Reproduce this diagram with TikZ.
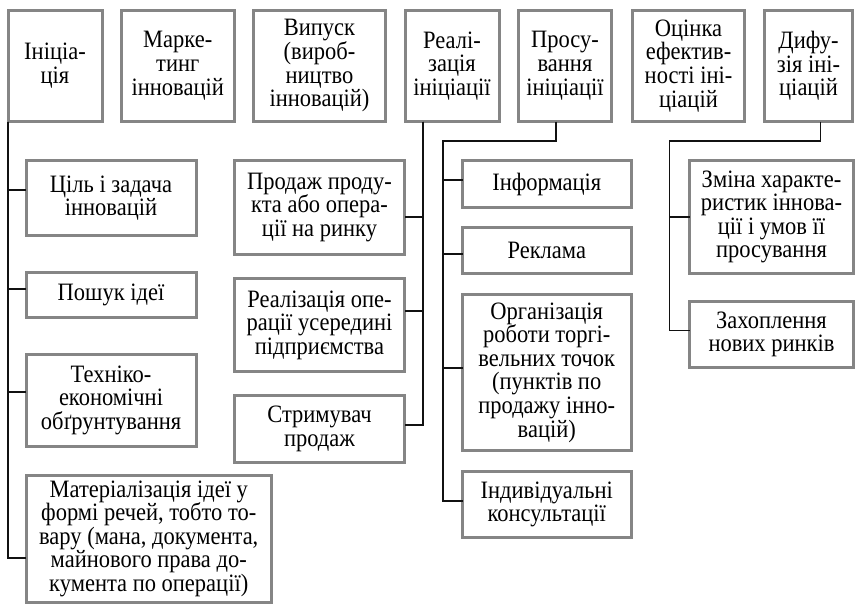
\documentclass[tikz,border=0pt]{standalone}
\usepackage{fontspec}
\setmainfont[FakeStretch=0.9]{Liberation Serif}
\usepackage{tikz}
\usetikzlibrary{positioning,calc}
\definecolor{cFrame}{HTML}{858585}
\definecolor{cLine} {HTML}{111111}
\tikzset{
  box/.style  ={draw=cFrame,fill=white,line width=1.5pt,align=center,
                inner sep=0pt,font=\fontsize{12.5}{11.8}\selectfont},
  link/.style ={draw=cLine,line width=0.85pt},
}

\begin{document}
\begin{tikzpicture}[x=0.5pt,y=0.5pt,every node/.style={outer sep=0pt}]
\useasboundingbox (0,0) rectangle (855,-606);

% top row
\node[box,minimum width=47pt,   minimum height=55.75pt] (init)  at (55,-65.75)    {Ініціа-\\ція};
\node[box,minimum width=56.25pt,minimum height=55.75pt] (mark)  at (177.75,-65.75) {Марке-\\тинг\\інновацій};
\node[box,minimum width=66pt,   minimum height=55.75pt] (prod)  at (319.5,-65.75) {Випуск\\(вироб-\\ництво\\інновацій)};
\node[box,minimum width=47pt,   minimum height=55.75pt] (real)  at (452,-65.75)   {Реалі-\\зація\\ініціації};
\node[box,minimum width=46.5pt, minimum height=55.75pt] (promo) at (565,-65.75)   {Просу-\\вання\\ініціації};
\node[box,minimum width=56pt,   minimum height=55.75pt] (eval)  at (688.5,-65.75) {Оцінка\\ефектив-\\ності іні-\\ціацій};
\node[box,minimum width=44pt,   minimum height=55.75pt] (diff)  at (808.5,-65.75) {Дифу-\\зія іні-\\ціацій};

% initiation branch
\node[box,minimum width=85pt,minimum height=37.5pt]  (goal)   at (111,-198)     {Ціль і задача\\інновацій};
\node[box,minimum width=85pt,minimum height=22.75pt] (search) at (111,-294.75)  {Пошук ідеї};
\node[box,minimum width=85pt,minimum height=46.25pt] (feas)   at (111,-400.25)  {Техніко-\\економічні\\обґрунтування};
\node[box,minimum width=122.75pt,minimum height=63.75pt] (mat) at (148.75,-538.75) {Матеріалізація ідеї у\\формі речей, тобто то-\\вару (мана, документа,\\майнового права до-\\кумента по операції)};
\draw[link] (init.south west) |- ([yshift=4pt]goal.west);
\draw[link] (init.south west) |- ([yshift=2.9pt]search.west);
\draw[link] (init.south west) |- ([yshift=4.1pt]feas.west);
\draw[link] (init.south west) |- ([yshift=-9.6pt]mat.west);

% realisation branch
\node[box,minimum width=85pt,minimum height=47pt]   (sale)  at (319.5,-207.5) {Продаж проду-\\кта або опера-\\ції на ринку};
\node[box,minimum width=85pt,minimum height=46.5pt] (inner) at (319.5,-325)   {Реалізація опе-\\рації усередині\\підприємства};
\node[box,minimum width=85pt,minimum height=33.5pt] (brake) at (319.5,-429)   {Стримувач\\продаж};
\draw[link] ([xshift=-14.5pt]real.south) |- ([yshift=-4.75pt]sale.east);
\draw[link] ([xshift=-14.5pt]real.south) |- ([yshift=7pt]inner.east);
\draw[link] ([xshift=-14.5pt]real.south) |- ([yshift=2pt]brake.east);

% promotion branch
\node[box,minimum width=84.25pt,minimum height=23.5pt] (info) at (546.75,-184)   {Інформація};
\node[box,minimum width=84.25pt,minimum height=23pt]   (adv)  at (546.75,-250.5) {Реклама};
\node[box,minimum width=84.25pt,minimum height=78pt]   (org)  at (546.75,-372.5) {Організація\\роботи торгі-\\вельних точок\\(пунктів по\\продажу інно-\\вацій)};
\node[box,minimum width=84.25pt,minimum height=33pt]   (cons) at (546.75,-504.5) {Індивідуальні\\консультації};
\coordinate (pbus) at (443,-141);
\draw[link] ([xshift=-4.5pt]promo.south) |- (pbus) |- ([yshift=2pt]info.west);
\draw[link] (pbus) |- ([yshift=-1.75pt]adv.west);
\draw[link] (pbus) |- ([yshift=2.25pt]org.west);
\draw[link] (pbus) |- ([yshift=1.75pt]cons.west);

% diffusion branch
\node[box,minimum width=82pt,minimum height=56.5pt] (change)  at (771.5,-217)   {Зміна характе-\\ристик іннова-\\ції і умов її\\просування};
\node[box,minimum width=82pt,minimum height=33pt]   (capture) at (771.5,-334.5) {Захоплення\\нових ринків};
\coordinate (dbus) at (669.5,-141);
\draw[link] ([xshift=6pt]diff.south) |- (dbus) |- (change.west);
\draw[link] (dbus) |- ([yshift=2pt]capture.west);
\end{tikzpicture}
\end{document}
